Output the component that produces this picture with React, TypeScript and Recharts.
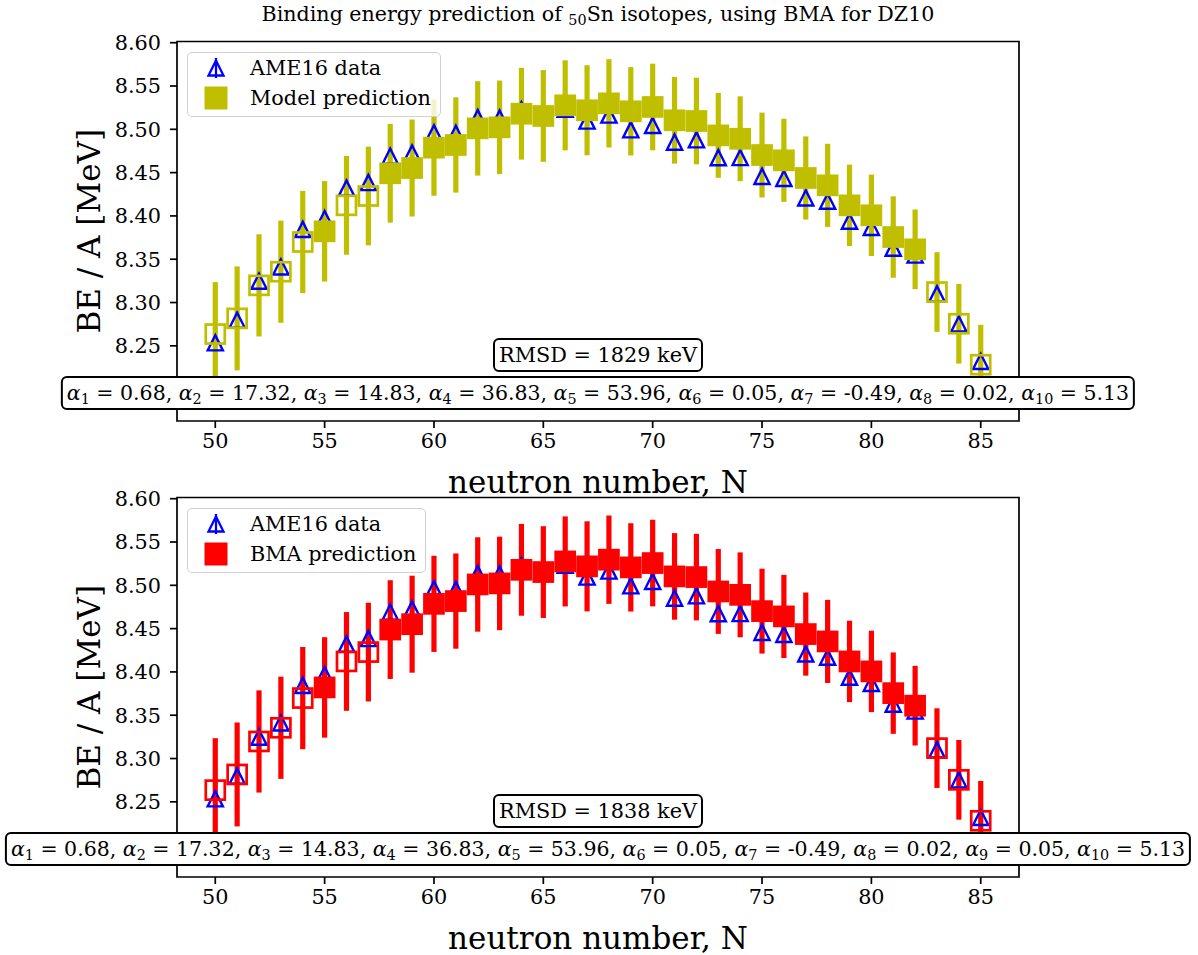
import React from 'react';
import { ComposedChart, Scatter, ErrorBar, XAxis, YAxis, ReferenceArea } from 'recharts';

// Sn isotopes, N = 50 ... 85
const neutrons = [
  50, 51, 52, 53, 54, 55, 56, 57, 58, 59, 60, 61, 62, 63, 64, 65, 66, 67,
  68, 69, 70, 71, 72, 73, 74, 75, 76, 77, 78, 79, 80, 81, 82, 83, 84, 85,
];

// AME16 binding energy per nucleon [MeV]
const ame16 = [
  8.2535, 8.2796, 8.3246, 8.3411, 8.3845, 8.3970, 8.4322, 8.4386, 8.4690,
  8.4727, 8.4960, 8.4953, 8.5136, 8.5130, 8.5226, 8.5141, 8.5231, 8.5096,
  8.5165, 8.4995, 8.5045, 8.4852, 8.4879, 8.4673, 8.4674, 8.4457, 8.4433,
  8.4208, 8.4170, 8.3939, 8.3867, 8.3628, 8.3548, 8.3101, 8.2753, 8.2320,
];

// DZ10 model prediction and its 1-sigma band
const modelPred = [
  8.2636, 8.2817, 8.3198, 8.3356, 8.3699, 8.3822, 8.4122, 8.4230, 8.4492,
  8.4553, 8.4788, 8.4819, 8.5011, 8.5023, 8.5180, 8.5154, 8.5277, 8.5220,
  8.5300, 8.5208, 8.5258, 8.5104, 8.5096, 8.4930, 8.4891, 8.4703, 8.4642,
  8.4438, 8.4353, 8.4122, 8.4007, 8.3756, 8.3614, 8.3121, 8.2755, 8.2282,
];
const modelErr = [
  0.060, 0.060, 0.059, 0.059, 0.059, 0.058, 0.057, 0.057, 0.057,
  0.056, 0.0555, 0.055, 0.0545, 0.054, 0.053, 0.053, 0.052, 0.052,
  0.051, 0.051, 0.050, 0.050, 0.050, 0.049, 0.049, 0.049, 0.048,
  0.048, 0.048, 0.047, 0.047, 0.047, 0.046, 0.046, 0.046, 0.046,
];

// BMA prediction and its 1-sigma band
const bmaPred = [
  8.2635, 8.2816, 8.3197, 8.3355, 8.3698, 8.3821, 8.4121, 8.4229, 8.4489,
  8.4551, 8.4786, 8.4818, 8.5010, 8.5022, 8.5179, 8.5153, 8.5276, 8.5219,
  8.5296, 8.5207, 8.5257, 8.5103, 8.5095, 8.4929, 8.4890, 8.4702, 8.4641,
  8.4437, 8.4352, 8.4121, 8.4006, 8.3755, 8.3610, 8.3120, 8.2754, 8.2281,
];
const bmaErr = [
  0.060, 0.060, 0.059, 0.059, 0.059, 0.058, 0.057, 0.057, 0.057,
  0.056, 0.0555, 0.055, 0.0545, 0.054, 0.053, 0.053, 0.052, 0.052,
  0.051, 0.051, 0.050, 0.050, 0.050, 0.049, 0.049, 0.049, 0.048,
  0.048, 0.048, 0.047, 0.047, 0.047, 0.046, 0.046, 0.046, 0.046,
];

// nuclei drawn as hollow squares
const hollowN = [50, 51, 52, 53, 54, 56, 57, 83, 84, 85];

const xTicks = [50, 55, 60, 65, 70, 75, 80, 85];
const yTicks = [8.25, 8.3, 8.35, 8.4, 8.45, 8.5, 8.55, 8.6];

const dz10Params: [string, string][] = [
  ['1', '0.68'], ['2', '17.32'], ['3', '14.83'], ['4', '36.83'], ['5', '53.96'],
  ['6', '0.05'], ['7', '-0.49'], ['8', '0.02'], ['10', '5.13'],
];
const bmaParams: [string, string][] = [
  ['1', '0.68'], ['2', '17.32'], ['3', '14.83'], ['4', '36.83'], ['5', '53.96'],
  ['6', '0.05'], ['7', '-0.49'], ['8', '0.02'], ['9', '0.05'], ['10', '5.13'],
];

const FONT = "'DejaVu Serif', serif";
const SMALL = 20.8;
const PARAM_SIZE = 20.5;
const LARGE = 31;
const BLUE = '#0000ff';
const OLIVE = '#bfbf00';
const RED = '#ff0000';

const X_DOMAIN: [number, number] = [48.25, 86.75];
const Y_DOMAIN: [number, number] = [8.1632, 8.6014];

const CHART_W = 1198;
const CHART_H = 500;
const PLOT_LEFT = 177;
const PLOT_TOP = 41.5;
const PLOT_W = 842;
const PLOT_H = 379.5;
const X_AXIS_H = 30;
const Y_AXIS_W = 80;
const PANEL_GAP = 456;

const Triangle = (props: any) => {
  const { cx, cy } = props;
  const h = 7.6;
  return (
    <polygon
      points={`${cx},${cy - h} ${cx - h},${cy + h} ${cx + h},${cy + h}`}
      fill="none"
      stroke={BLUE}
      strokeWidth={2.4}
    />
  );
};

const makeSquare = (color: string) => (props: any) => {
  const { cx, cy, payload } = props;
  const s = 19;
  return (
    <rect
      x={cx - s / 2}
      y={cy - s / 2}
      width={s}
      height={s}
      fill={payload.hollow ? 'none' : color}
      stroke={color}
      strokeWidth={2.7}
    />
  );
};

const boxStyle: React.CSSProperties = {
  position: 'absolute',
  left: PLOT_LEFT + PLOT_W / 2,
  transform: 'translateX(-50%)',
  whiteSpace: 'nowrap',
  background: '#fff',
  border: '2px solid #000',
  borderRadius: 6,
  padding: '3px 4px',
  lineHeight: '24px',
  fontFamily: FONT,
  fontSize: SMALL,
  color: '#000',
};

interface PanelProps {
  top: number;
  pred: number[];
  err: number[];
  color: string;
  predLabel: string;
  rmsd: number;
  params: [string, string][];
}

const Panel = ({ top, pred, err, color, predLabel, rmsd, params }: PanelProps) => {
  const ameRows = neutrons.map((n, i) => ({ n, y: ame16[i] }));
  const predRows = neutrons.map((n, i) => ({
    n,
    y: pred[i],
    err: err[i],
    hollow: hollowN.includes(n),
  }));
  const tickStyle = { fontFamily: FONT, fontSize: SMALL, fill: '#000' };

  return (
    <div style={{ position: 'absolute', left: 0, top, width: CHART_W, height: CHART_H }}>
      <ComposedChart
        width={CHART_W}
        height={CHART_H}
        margin={{
          top: PLOT_TOP,
          left: PLOT_LEFT - Y_AXIS_W,
          right: CHART_W - PLOT_LEFT - PLOT_W,
          bottom: CHART_H - PLOT_TOP - PLOT_H - X_AXIS_H,
        }}
      >
        <XAxis
          type="number"
          dataKey="n"
          domain={X_DOMAIN}
          ticks={xTicks}
          interval={0}
          allowDataOverflow
          height={X_AXIS_H}
          axisLine={false}
          tickLine={{ stroke: '#000', strokeWidth: 1.7 }}
          tickSize={7}
          tickMargin={5}
          tick={tickStyle}
          label={{
            content: (p: any) => (
              <text
                x={p.viewBox.x + p.viewBox.width / 2}
                y={p.viewBox.y + 71.5}
                textAnchor="middle"
                fontFamily={FONT}
                fontSize={LARGE}
                fill="#000"
              >
                neutron number, N
              </text>
            ),
          }}
        />
        <YAxis
          type="number"
          dataKey="y"
          domain={Y_DOMAIN}
          ticks={yTicks}
          interval={0}
          allowDataOverflow
          width={Y_AXIS_W}
          axisLine={false}
          tickLine={{ stroke: '#000', strokeWidth: 1.7 }}
          tickSize={7}
          tickMargin={9}
          tick={tickStyle}
          tickFormatter={(v: number) => v.toFixed(2)}
          label={{
            content: (p: any) => {
              const cx = 100;
              const cy = p.viewBox.y + p.viewBox.height / 2;
              return (
                <text
                  x={cx}
                  y={cy}
                  transform={`rotate(-90, ${cx}, ${cy})`}
                  textAnchor="middle"
                  fontFamily={FONT}
                  fontSize={LARGE}
                  fill="#000"
                >
                  BE / A [MeV]
                </text>
              );
            },
          }}
        />
        <Scatter data={ameRows} dataKey="y" shape={Triangle} isAnimationActive={false} />
        <Scatter data={predRows} dataKey="y" shape={makeSquare(color)} isAnimationActive={false}>
          <ErrorBar dataKey="err" direction="y" width={0} stroke={color} strokeWidth={5.2} />
        </Scatter>
        <ReferenceArea
          x1={X_DOMAIN[0]}
          x2={X_DOMAIN[1]}
          y1={Y_DOMAIN[0]}
          y2={Y_DOMAIN[1]}
          fill="none"
          stroke="#000"
          strokeWidth={1.7}
          ifOverflow="visible"
        />
      </ComposedChart>

      {/* legend */}
      <div
        style={{
          position: 'absolute',
          left: 187,
          top: 52,
          border: '1.5px solid #d0d0d0',
          borderRadius: 5,
          background: 'rgba(255,255,255,0.8)',
          padding: '0 9px 3px 8px',
          fontFamily: FONT,
          fontSize: SMALL,
          color: '#000',
        }}
      >
        <div style={{ display: 'flex', alignItems: 'center', height: 30 }}>
          <svg width={40} height={30} style={{ marginRight: 14 }}>
            <line x1={20} y1={5} x2={20} y2={25} stroke={BLUE} strokeWidth={2.3} />
            <polygon points="20,7.5 12.5,22.5 27.5,22.5" fill="none" stroke={BLUE} strokeWidth={2.3} />
          </svg>
          <span>AME16 data</span>
        </div>
        <div style={{ display: 'flex', alignItems: 'center', height: 30 }}>
          <svg width={40} height={30} style={{ marginRight: 14 }}>
            <rect x={9.5} y={4.5} width={21} height={21} fill={color} stroke={color} strokeWidth={2} />
          </svg>
          <span>{predLabel}</span>
        </div>
      </div>

      <div style={{ ...boxStyle, top: 338 }}>RMSD = {rmsd} keV</div>
      <div style={{ ...boxStyle, top: 376, fontSize: PARAM_SIZE }}>
        {params.map(([k, v], i) => (
          <span key={k}>
            <i>α</i>
            <span style={{ fontSize: '0.7em', position: 'relative', top: '0.3em', lineHeight: 0 }}>{k}</span>
            {' = '}
            {v}
            {i < params.length - 1 ? ', ' : ''}
          </span>
        ))}
      </div>
    </div>
  );
};

export default function App() {
  return (
    <div
      style={{
        position: 'absolute',
        left: 0,
        top: 0,
        width: 1198,
        height: 955,
        background: '#fff',
        overflow: 'hidden',
      }}
    >
      <div
        style={{
          position: 'absolute',
          left: 0,
          top: 2,
          width: PLOT_LEFT * 2 + PLOT_W,
          textAlign: 'center',
          fontFamily: FONT,
          fontSize: 20.6,
          lineHeight: '24px',
          color: '#000',
          whiteSpace: 'nowrap',
        }}
      >
        Binding energy prediction of{' '}
        <span style={{ fontSize: '0.7em', position: 'relative', top: '0.3em', lineHeight: 0 }}>50</span>
        Sn isotopes, using BMA for DZ10
      </div>
      <Panel
        top={0}
        pred={modelPred}
        err={modelErr}
        color={OLIVE}
        predLabel="Model prediction"
        rmsd={1829}
        params={dz10Params}
      />
      <Panel
        top={PANEL_GAP}
        pred={bmaPred}
        err={bmaErr}
        color={RED}
        predLabel="BMA prediction"
        rmsd={1838}
        params={bmaParams}
      />
    </div>
  );
}
